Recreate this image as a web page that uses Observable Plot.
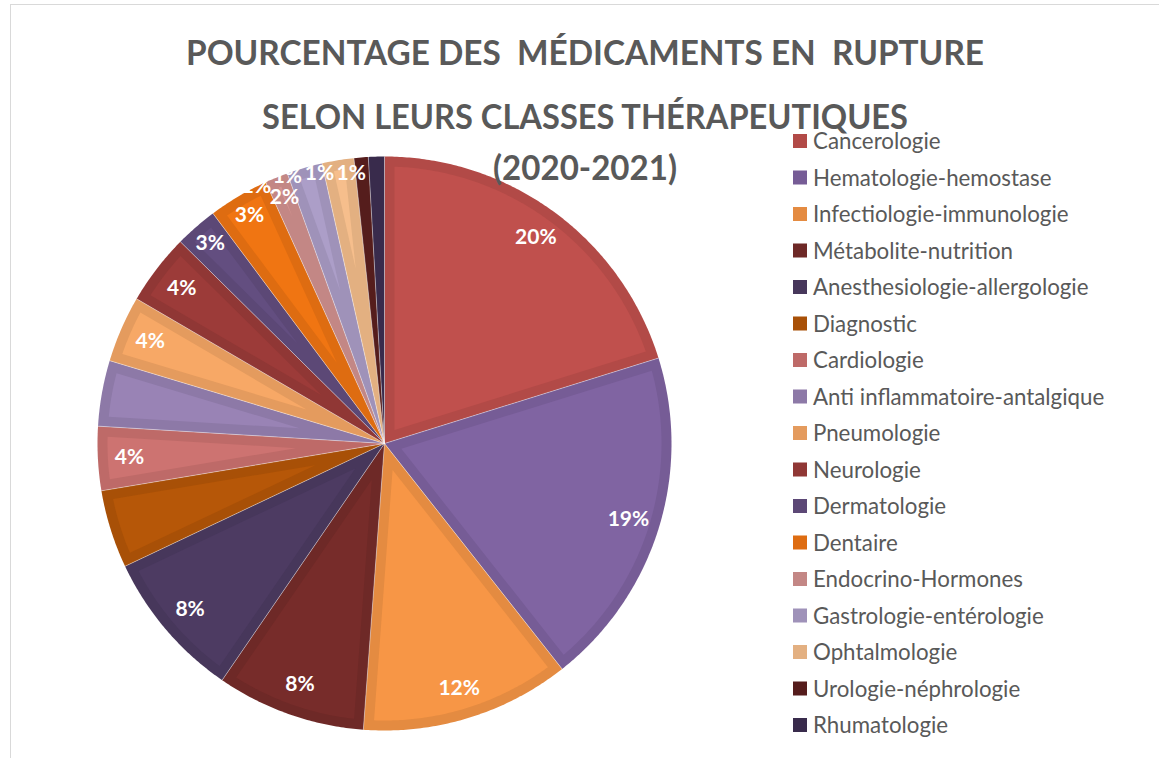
<!DOCTYPE html>
<html><head><meta charset="utf-8">
<script src="https://cdn.jsdelivr.net/npm/d3@7"></script>
<script src="https://cdn.jsdelivr.net/npm/@observablehq/plot@0.6"></script>
<style>
html,body{margin:0;padding:0;background:#fff;width:1159px;height:758px;overflow:hidden;font-family:Lato,"Open Sans",sans-serif;}
#frame{position:absolute;left:10px;top:4px;width:1170px;height:800px;border:1px solid #d9d9d9;box-sizing:border-box;}
#chart{position:absolute;left:0;top:0;}
#overlay{position:absolute;left:0;top:0;}
</style></head><body>
<div id="frame"></div>
<div id="chart"></div>
<svg id="overlay" width="1159" height="758"></svg>
<script>
// ---- data ----
const categories = ["Cancerologie","Hematologie-hemostase","Infectiologie-immunologie","Métabolite-nutrition","Anesthesiologie-allergologie","Diagnostic","Cardiologie","Anti inflammatoire-antalgique","Pneumologie","Neurologie","Dermatologie","Dentaire","Endocrino-Hormones","Gastrologie-entérologie","Ophtalmologie","Urologie-néphrologie","Rhumatologie"];
const shares = [20.2, 19.2, 11.8, 8.4, 8.4, 4.4, 3.6, 3.7, 3.75, 4.0, 2.4, 3.4, 1.3, 2.0, 1.8, 0.8, 0.9];
const sliceLabels = ["20%","19%","12%","8%","8%","","4%","","4%","4%","3%","3%","2%","1%","1%","1%","1%"];
const colors = ["#C0504D","#8064A2","#F79646","#772C2A","#4D3B62","#B65708","#CD7371","#9983B5","#F7A866","#9C3B39","#634E80","#F07512","#D39290","#AC9EC8","#F6BE8C","#5C1F1E","#3E2E52"];
const titleLines = ["POURCENTAGE DES  MÉDICAMENTS EN  RUPTURE","SELON LEURS CLASSES THÉRAPEUTIQUES","(2020-2021)"];

// ---- layout ----
const W = 1159, H = 758, CX = 384, CY = 443, R = 287;
const total = d3.sum(shares);
let acc = 0;
const slices = categories.map((name, i) => {
  const a0 = acc / total * 2 * Math.PI; acc += shares[i];
  const a1 = acc / total * 2 * Math.PI;
  return {name, a0, a1, color: colors[i], border: d3.color(colors[i]).darker(0.22).formatHex(), label: sliceLabels[i]};
});
const P = (a, r) => [r * Math.sin(a), r * Math.cos(a)];

const outerPts = [], innerPts = [];
const inset = 10 / R;
slices.forEach(s => {
  const n = Math.max(2, Math.ceil((s.a1 - s.a0) / (Math.PI / 360)));
  const ring = [[0, 0]];
  for (let k = 0; k <= n; k++) ring.push(P(s.a0 + (s.a1 - s.a0) * k / n, 1));
  ring.push([0, 0]);
  ring.forEach(([x, y]) => outerPts.push({name: s.name, x, y, c: s.border}));
  const th = s.a1 - s.a0, rho = 1 - inset;
  const delta = Math.asin(inset / rho);
  const apexD = inset / Math.sin(th / 2);
  if (th > 2 * delta && apexD < rho * 0.97) {
    const mid = (s.a0 + s.a1) / 2;
    const ap = P(mid, apexD);
    const inner = [ap];
    const b0 = s.a0 + delta, b1 = s.a1 - delta;
    const m = Math.max(2, Math.ceil((b1 - b0) / (Math.PI / 360)));
    for (let k = 0; k <= m; k++) inner.push(P(b0 + (b1 - b0) * k / m, rho));
    inner.push(ap);
    inner.forEach(([x, y]) => innerPts.push({name: s.name, x, y, c: s.color}));
  }
});

// labels (small labels pushed counter-clockwise, Excel "best fit"-like)
const labelData = [];
const capDeg = 353, gapDeg = 6.5;
let nextA = capDeg + gapDeg, rank = 0;
for (let i = slices.length - 1; i >= 0; i--) {
  const s = slices[i];
  if (!s.label) continue;
  let a = (s.a0 + s.a1) / 2 * 180 / Math.PI, rf;
  if (s.label === "1%") { a = Math.min(a, nextA - gapDeg); nextA = a; rf = Math.min(1.0, 0.95 + 0.02 * rank); rank++; }
  else rf = parseFloat(s.label) >= 4 ? 0.89 : 0.925;
  const [x, y] = P(a * Math.PI / 180, rf);
  labelData.push({x, y, text: s.label});
}

const chart = Plot.plot({
  width: W, height: H, margin: 0,
  x: {domain: [-CX / R, (W - CX) / R], range: [0, W], axis: null},
  y: {domain: [(CY - H) / R, CY / R], range: [H, 0], axis: null},
  style: {background: "transparent"},
  marks: [
    Plot.line(outerPts, {x: "x", y: "y", z: "name", fill: "c", stroke: "none", curve: "linear"}),
    Plot.line(innerPts, {x: "x", y: "y", z: "name", fill: "c", stroke: "none", curve: "linear"}),
    Plot.link(slices, {x1: () => 0, y1: () => 0, x2: d => P(d.a0, 1)[0], y2: d => P(d.a0, 1)[1], stroke: "#ffffff", strokeOpacity: 0.45, strokeWidth: 0.9}),
    Plot.text(labelData, {x: "x", y: "y", text: "text", fill: "#ffffff", fontSize: 21, fontWeight: "bold", fontFamily: "Lato, 'Open Sans', sans-serif"})
  ]
});
document.getElementById("chart").appendChild(chart);

// ---- title & legend ----
const ov = d3.select("#overlay");
const titleY = [65, 129, 180], titleW = [798, 646, 184];
titleLines.forEach((t, i) => {
  ov.append("text").attr("x", 585).attr("y", titleY[i]).attr("text-anchor", "middle")
    .attr("font-family", "Lato, 'Open Sans', sans-serif").attr("font-weight", "bold").attr("font-size", 35)
    .attr("fill", "#595959").attr("textLength", titleW[i]).attr("lengthAdjust", "spacingAndGlyphs")
    .style("white-space", "pre").text(t);
});
const legTop = 141, legStep = 36.5;
slices.forEach((s, i) => {
  const cy = legTop + i * legStep;
  ov.append("rect").attr("x", 793).attr("y", cy - 7).attr("width", 14).attr("height", 14).attr("fill", s.border);
  ov.append("text").attr("x", 813).attr("y", cy + 8).attr("font-family", "Lato, 'Open Sans', sans-serif")
    .attr("font-size", 22.3).attr("fill", "#595959").text(s.name);
});
</script>
</body></html>
